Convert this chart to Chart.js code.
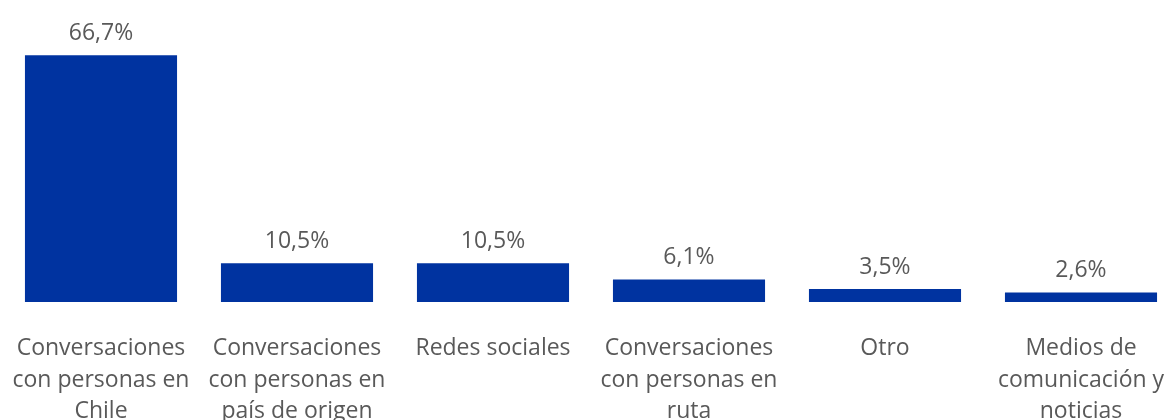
<!DOCTYPE html>
<html><head><meta charset="utf-8">
<script src="https://cdn.jsdelivr.net/npm/chart.js@4/dist/chart.umd.min.js"></script>
<style>html,body{margin:0;padding:0;background:#fff;overflow:hidden;width:1172px;height:420px}
#wrap{position:absolute;left:0;top:0;width:1180px;height:420px}</style>
</head><body><div id="wrap"><canvas id="c"></canvas></div>
<script>
const categories = [
  ["Conversaciones","con personas en","Chile"],
  ["Conversaciones","con personas en","país de origen"],
  ["Redes sociales"],
  ["Conversaciones","con personas en","ruta"],
  ["Otro"],
  ["Medios de","comunicación y","noticias"]
];
const values = [66.7, 10.5, 10.5, 6.1, 3.5, 2.6];
const valueLabels = ["66,7%","10,5%","10,5%","6,1%","3,5%","2,6%"];

const FONT = "'Open Sans', 'Noto Sans', sans-serif";
const TEXT = "#595959";

const labelPlugin = {
  id: 'valLabels',
  afterDatasetsDraw(chart) {
    const ctx = chart.ctx;
    const meta = chart.getDatasetMeta(0);
    ctx.save();
    ctx.font = "23px " + FONT;
    ctx.fillStyle = TEXT;
    ctx.textAlign = 'center';
    ctx.textBaseline = 'bottom';
    meta.data.forEach((bar, i) => {
      ctx.fillText(valueLabels[i], bar.x, bar.y - 10);
    });
    ctx.restore();
  }
};

new Chart(document.getElementById('c'), {
  type: 'bar',
  data: {
    labels: categories,
    datasets: [{
      data: values,
      backgroundColor: '#0033A0',
      borderWidth: 0,
      categoryPercentage: 1,
      barPercentage: 0.776
    }]
  },
  options: {
    responsive: true,
    maintainAspectRatio: false,
    animation: false,
    layout: { padding: { left: 3, right: 1, top: 6, bottom: 0 } },
    plugins: { legend: { display: false }, tooltip: { enabled: false } },
    scales: {
      x: {
        grid: { display: false, drawTicks: false },
        border: { display: false },
        ticks: { color: TEXT, font: { family: FONT, size: 23, lineHeight: '31.5px' }, padding: 31, maxRotation: 0, autoSkip: false },
        afterFit(scale) { scale.height = 118; scale.paddingLeft = 0; scale.paddingRight = 0; }
      },
      y: {
        display: false,
        min: 0, max: 80
      }
    }
  },
  plugins: [labelPlugin]
});
</script></body></html>
